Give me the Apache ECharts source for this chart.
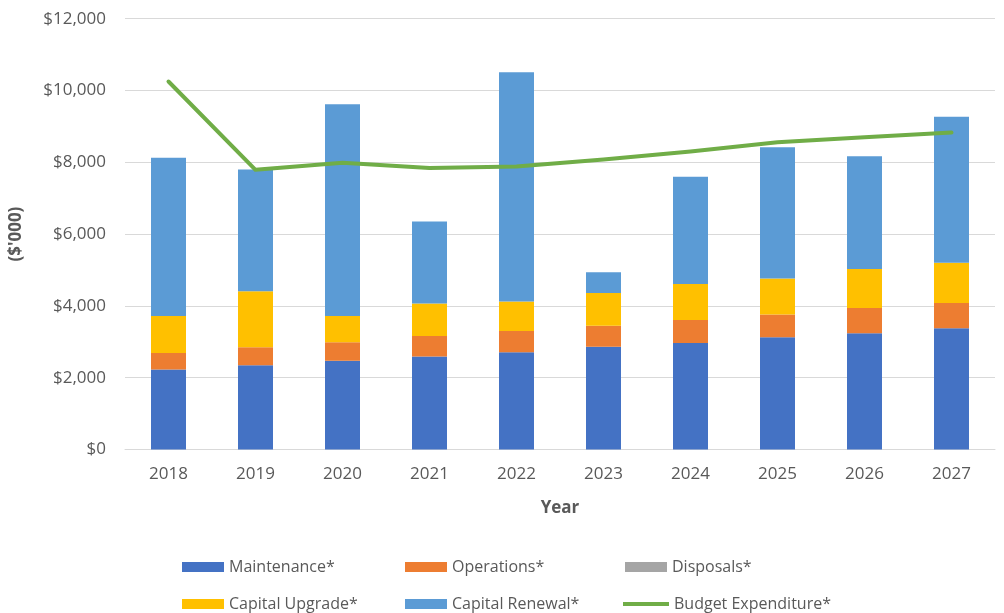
<!DOCTYPE html>
<html>
<head>
<meta charset="utf-8">
<script src="https://cdn.jsdelivr.net/npm/echarts@6/dist/echarts.min.js"></script>
<style>
html,body{margin:0;padding:0;background:#fff;}
#c{width:1004px;height:613px;}
</style>
</head>
<body>
<div id="c"></div>
<script>
const years = ['2018','2019','2020','2021','2022','2023','2024','2025','2026','2027'];
const maintenance = [2230, 2350, 2470, 2590, 2710, 2860, 2970, 3130, 3240, 3380];
const operations = [460, 500, 520, 570, 590, 590, 640, 630, 700, 700];
const disposals = [0, 0, 0, 0, 0, 0, 0, 0, 0, 0];
const capitalUpgrade = [1030, 1560, 730, 910, 820, 910, 1000, 1000, 1090, 1120];
const capitalRenewal = [4410, 3390, 5900, 2280, 6390, 580, 2990, 3660, 3140, 4070];
const budgetExpenditure = [10250, 7790, 7990, 7840, 7880, 8080, 8300, 8560, 8700, 8830];
const yTicks = [0, 2000, 4000, 6000, 8000, 10000, 12000];

const font = 'Open Sans';
const txt = '#595959';
const chart = echarts.init(document.getElementById('c'));

function leg(name, left, top, opts) {
  return Object.assign({
    data: [name], left: left, top: top, padding: 0, itemWidth: 42, itemHeight: 10, icon: 'rect',
    itemGap: 5, textStyle: {fontFamily: font, fontSize: 16, color: txt}, selectedMode: false
  }, opts || {});
}

chart.setOption({
  animation: false,
  grid: {left: 123, right: 9, top: 18.7, bottom: 163.5, containLabel: false},
  xAxis: {
    type: 'category', data: years,
    name: 'Year', nameLocation: 'middle', nameGap: 50,
    nameTextStyle: {fontFamily: font, fontSize: 17, fontWeight: 'bold', color: txt},
    axisLine: {lineStyle: {color: '#d9d9d9', width: 1}},
    axisTick: {show: false},
    axisLabel: {fontFamily: font, fontSize: 17, color: txt, margin: 16}
  },
  yAxis: {
    type: 'value', min: 0, max: 12000, interval: 2000,
    name: "($'000)", nameLocation: 'middle', nameGap: 100, nameRotate: 90,
    nameTextStyle: {fontFamily: font, fontSize: 17, fontWeight: 'bold', color: txt},
    axisLine: {show: false}, axisTick: {show: false},
    splitLine: {lineStyle: {color: '#d9d9d9', width: 1}},
    axisLabel: {fontFamily: font, fontSize: 17, color: txt, margin: 19,
      formatter: v => yTicks.includes(v) ? '$' + v.toLocaleString('en-US') : ''}
  },
  legend: [
    leg('Maintenance*', 182, 559),
    leg('Operations*', 405, 559),
    leg('Disposals*', 625, 559),
    leg('Capital Upgrade*', 182, 596),
    leg('Capital Renewal*', 405, 596),
    leg('Budget Expenditure*', 623, 596, {itemHeight: 4, itemWidth: 46, itemGap: 4})
  ],
  series: [
    {name: 'Maintenance*', type: 'bar', stack: 's', data: maintenance, barWidth: 35, itemStyle: {color: '#4472C4'}},
    {name: 'Operations*', type: 'bar', stack: 's', data: operations, itemStyle: {color: '#ED7D31'}},
    {name: 'Disposals*', type: 'bar', stack: 's', data: disposals, itemStyle: {color: '#A5A5A5'}},
    {name: 'Capital Upgrade*', type: 'bar', stack: 's', data: capitalUpgrade, itemStyle: {color: '#FFC000'}},
    {name: 'Capital Renewal*', type: 'bar', stack: 's', data: capitalRenewal, itemStyle: {color: '#5B9BD5'}},
    {name: 'Budget Expenditure*', type: 'line', data: budgetExpenditure, symbol: 'none',
      lineStyle: {color: '#70AD47', width: 4, cap: 'round', join: 'round'}, itemStyle: {color: '#70AD47'}, z: 5}
  ]
});
</script>
</body>
</html>
